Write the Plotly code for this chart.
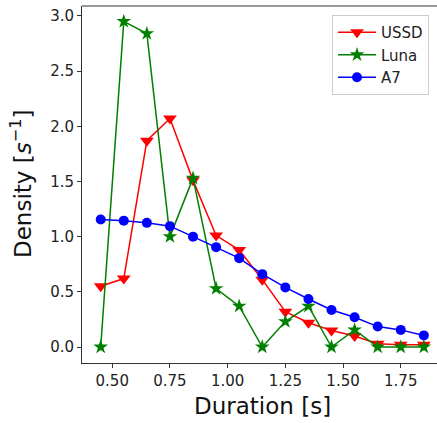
import plotly.graph_objects as go

durations = [0.45, 0.55, 0.65, 0.75, 0.85, 0.95, 1.05, 1.15, 1.25, 1.35, 1.45, 1.55, 1.65, 1.75, 1.85]
ussd = [0.55, 0.62, 1.87, 2.07, 1.51, 1.01, 0.88, 0.61, 0.32, 0.22, 0.15, 0.10, 0.03, 0.02, 0.02]
luna = [0.0, 2.95, 2.84, 1.0, 1.53, 0.53, 0.37, 0.0, 0.23, 0.37, 0.0, 0.155, 0.0, 0.0, 0.0]
a7 = [1.155, 1.145, 1.125, 1.095, 1.0, 0.905, 0.805, 0.66, 0.54, 0.435, 0.335, 0.27, 0.185, 0.155, 0.105]

x_ticks = [0.5, 0.75, 1.0, 1.25, 1.5, 1.75]
x_ticklabels = ["0.50", "0.75", "1.00", "1.25", "1.50", "1.75"]
y_ticks = [0.0, 0.5, 1.0, 1.5, 2.0, 2.5, 3.0]
y_ticklabels = ["0.0", "0.5", "1.0", "1.5", "2.0", "2.5", "3.0"]
x_title = "Duration [s]"
y_title = "Density [<i>s</i><sup>−1</sup>]"

FONT = "DejaVu Sans"
L, R, T, B = 82, 0, 6, 60
W, H = 437, 423
PW, PH = W - L - R, H - T - B

fig = go.Figure()
fig.add_trace(go.Scatter(x=durations, y=ussd, name="USSD", mode="lines+markers",
                         line=dict(color="red", width=1.5),
                         marker=dict(symbol="triangle-down", size=12, color="red")))
fig.add_trace(go.Scatter(x=durations, y=luna, name="Luna", mode="lines+markers",
                         line=dict(color="green", width=1.5),
                         marker=dict(symbol="star", size=11, color="green")))
fig.add_trace(go.Scatter(x=durations, y=a7, name="A7", mode="lines+markers",
                         line=dict(color="blue", width=1.5),
                         marker=dict(symbol="circle", size=10, color="blue")))

fig.update_layout(
    width=W, height=H,
    margin=dict(l=L, r=R, t=T, b=B),
    paper_bgcolor="white", plot_bgcolor="white",
    font=dict(family=FONT, size=15, color="#222"),
    showlegend=True,
    legend=dict(x=(332 - L) / PW, y=(H - B - 15) / PH, xanchor="left", yanchor="top",
                bgcolor="white", bordercolor="#cccccc", borderwidth=1, itemwidth=38,
                font=dict(size=15, color="#222")),
    xaxis=dict(range=[0.369, 1.907], tickvals=x_ticks, ticktext=x_ticklabels,
               ticks="outside", ticklen=4, tickcolor="#333", showgrid=False,
               zeroline=False, showline=True, linecolor="#333", linewidth=1,
               tickfont=dict(size=15), automargin=False),
    yaxis=dict(range=[-0.145, 3.09], tickvals=y_ticks, ticktext=y_ticklabels,
               ticks="outside", ticklen=4, tickcolor="#333", showgrid=False,
               zeroline=False, showline=True, linecolor="#333", linewidth=1,
               tickfont=dict(size=15), automargin=False),
)
fig.add_shape(type="line", xref="paper", yref="paper", x0=0, x1=1.05, y0=1, y1=1,
              line=dict(color="#333", width=1))
fig.add_annotation(text=x_title, xref="paper", yref="paper",
                   x=(262 - L) / PW, y=(H - B - 406) / PH, xanchor="center", yanchor="middle",
                   showarrow=False, font=dict(size=23, color="#111"))
fig.add_annotation(text=y_title, xref="paper", yref="paper", textangle=-90,
                   x=(21 - L) / PW, y=(H - B - 184) / PH, xanchor="center", yanchor="middle",
                   showarrow=False, font=dict(size=23, color="#111"))

fig.write_html("out.html", config={"displayModeBar": False},
               post_script="document.body.style.margin='0';")
